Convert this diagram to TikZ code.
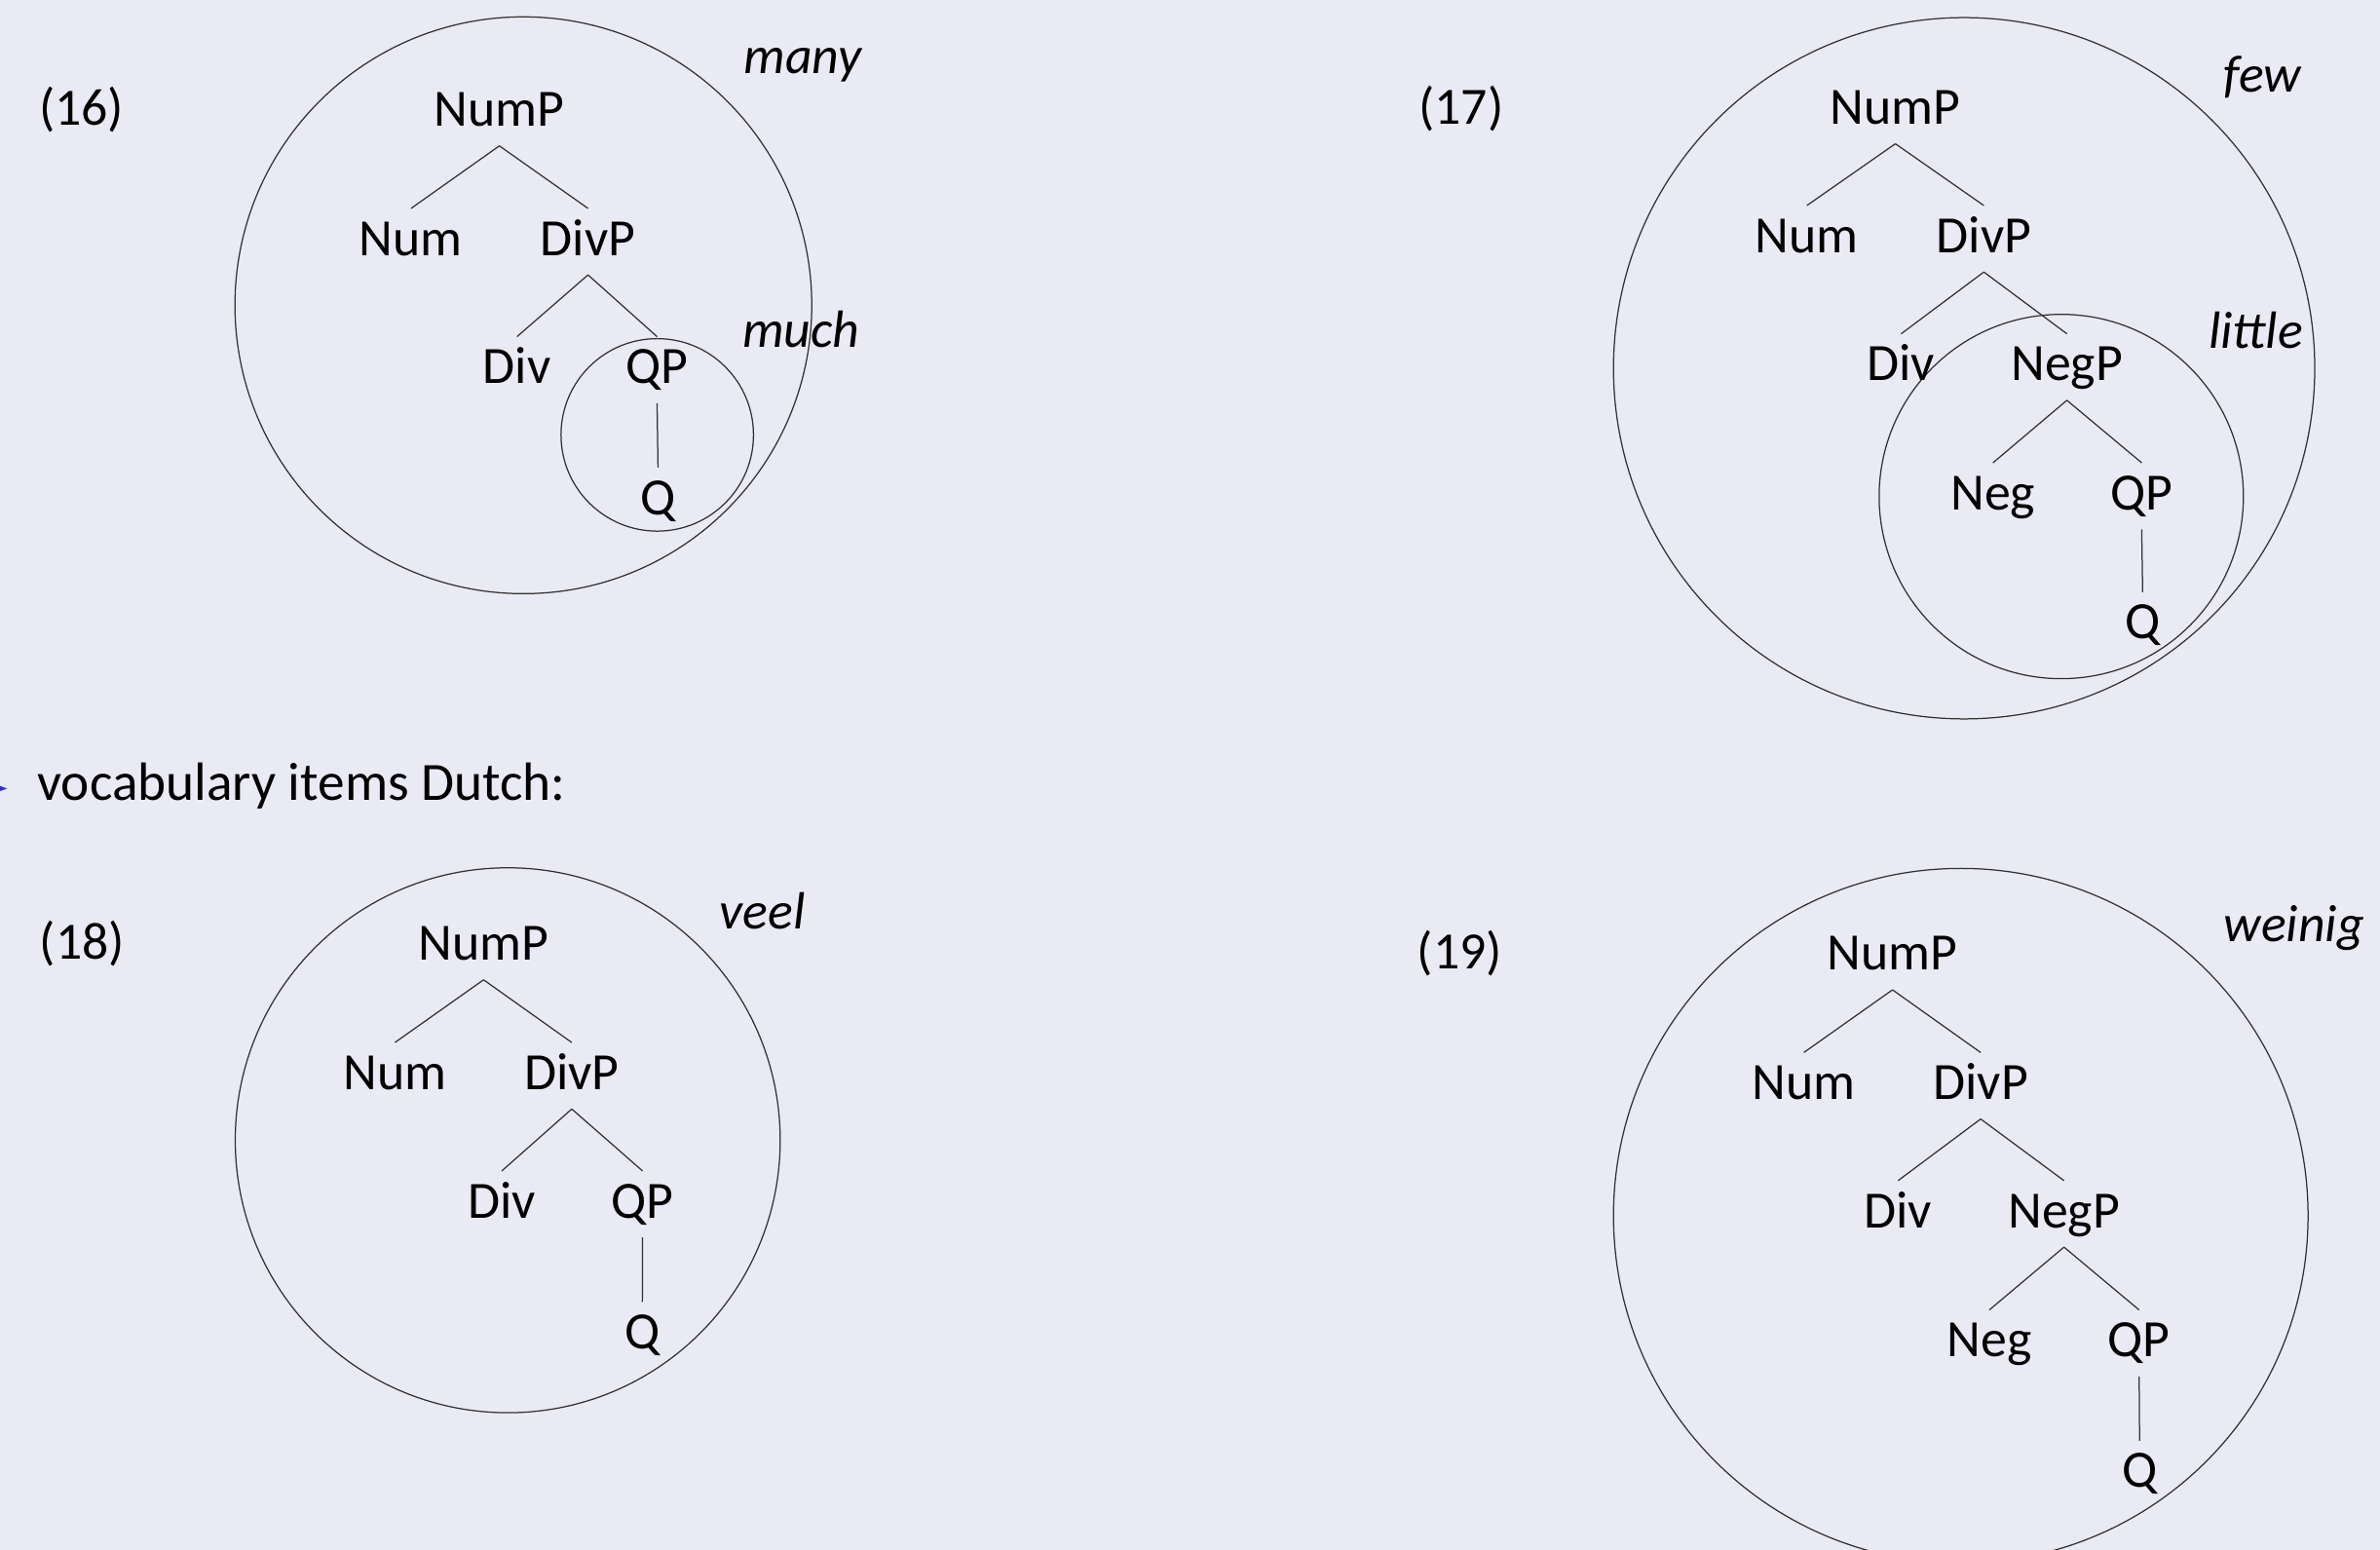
\documentclass[tikz,border=0pt]{standalone}
\usepackage{fontspec}
\setmainfont{Carlito}
\definecolor{bg}{RGB}{234,234,245}
\definecolor{bul}{RGB}{51,51,204}
\definecolor{ink}{RGB}{50,50,50}
\tikzset{
  cat/.style={font=\fontsize{34.5}{41}\selectfont, inner xsep=0pt, inner ysep=0pt,
              text height=30.7pt, text depth=12.7pt, yshift=-1.9pt},
  gloss/.style={font=\fontsize{34.5}{41}\selectfont\itshape, inner sep=0pt, anchor=base west},
  exnum/.style={font=\fontsize{34.5}{41}\selectfont, inner sep=0pt, anchor=base west},
  bodytext/.style={font=\fontsize{35.5}{42}\selectfont, inner sep=0pt, anchor=base west},
  branch/.style={draw=ink, line width=0.8pt},
  ring/.style={draw=ink, line width=0.8pt},
}
\begin{document}
\begin{tikzpicture}[x=1pt,y=-1pt]
\path[use as bounding box] (0,0) rectangle (1568,1021);
\fill[bg] (0,0) rectangle (1568,1021);
\clip (0,0) rectangle (1568,1021);

% ---------- (16) many / much ----------
\node[exnum] (e16) at (25.5,82.5) {(16)};
\draw[ring] (344.8,201.1) circle[radius=190pt];
\draw[ring] (433,286.5) circle[radius=63.4pt];
\node[gloss] (many) at (490,48.2) {many};
\node[gloss] (much) at (489,229) {much};
\node[cat] (a1) at (329,72.3) {NumP};
\node[cat] (a2) at (270.8,157.3) {Num};
\node[cat] (a3) at (387.4,157.3) {DivP};
\node[cat] (a4) at (340.6,241.8) {Div};
\node[cat] (a5) at (432.9,241.8) {QP};
\node[cat] (a6) at (433.5,328) {Q};
\draw[branch] (a1.south) -- (a2.north);
\draw[branch] (a1.south) -- (a3.north);
\draw[branch] (a3.south) -- (a4.north);
\draw[branch] (a3.south) -- (a5.north);
\draw[branch] (a5.south) -- (a6.north);

% ---------- (17) few / little ----------
\node[exnum] (e17) at (934.5,81.8) {(17)};
\draw[ring] (1294,242.6) circle[radius=231pt];
\draw[ring] (1358,327.1) circle[radius=120pt];
\node[gloss] (few) at (1465,60.6) {few};
\node[gloss] (little) at (1455,229.3) {little};
\node[cat] (b1) at (1248.7,70.9) {NumP};
\node[cat] (b2) at (1190.4,155.4) {Num};
\node[cat] (b3) at (1307,155.4) {DivP};
\node[cat] (b4) at (1252.5,239.9) {Div};
\node[cat] (b5) at (1361.7,239.9) {NegP};
\node[cat] (b6) at (1313,324.9) {Neg};
\node[cat] (b7) at (1411,324.9) {QP};
\node[cat] (b8) at (1411.6,410.1) {Q};
\draw[branch] (b1.south) -- (b2.north);
\draw[branch] (b1.south) -- (b3.north);
\draw[branch] (b3.south) -- (b4.north);
\draw[branch] (b3.south) -- (b5.north);
\draw[branch] (b5.south) -- (b6.north);
\draw[branch] (b5.south) -- (b7.north);
\draw[branch] (b7.south) -- (b8.north);

% ---------- bullet line ----------
\fill[bul] (-4,516.3) -- (4.7,519.5) -- (-4,522.7) -- cycle;
\node[bodytext] (bullet) at (24.5,527.4) {vocabulary items Dutch:};

% ---------- (18) veel ----------
\node[exnum] (e18) at (26,632) {(18)};
\draw[ring] (334.5,751.2) circle[radius=179.5pt];
\node[gloss] (veel) at (474,612) {veel};
\node[cat] (c1) at (318.6,621.7) {NumP};
\node[cat] (c2) at (260.2,706.8) {Num};
\node[cat] (c3) at (376.7,706.8) {DivP};
\node[cat] (c4) at (330.6,791.4) {Div};
\node[cat] (c5) at (423.3,791.4) {QP};
\node[cat] (c6) at (423.2,877.7) {Q};
\draw[branch] (c1.south) -- (c2.north);
\draw[branch] (c1.south) -- (c3.north);
\draw[branch] (c3.south) -- (c4.north);
\draw[branch] (c3.south) -- (c5.north);
\draw[branch] (c5.south) -- (c6.north);

% ---------- (19) weinig ----------
\node[exnum] (e19) at (933.5,638.6) {(19)};
\draw[ring] (1291.8,800.9) circle[radius=228.8pt];
\node[gloss] (weinig) at (1465,620) {weinig};
\node[cat] (d1) at (1246.8,628.3) {NumP};
\node[cat] (d2) at (1188.4,713.4) {Num};
\node[cat] (d3) at (1304.9,713.4) {DivP};
\node[cat] (d4) at (1250.5,797.8) {Div};
\node[cat] (d5) at (1359.8,797.8) {NegP};
\node[cat] (d6) at (1310.6,883) {Neg};
\node[cat] (d7) at (1409.3,883) {QP};
\node[cat] (d8) at (1409.6,969.1) {Q};
\draw[branch] (d1.south) -- (d2.north);
\draw[branch] (d1.south) -- (d3.north);
\draw[branch] (d3.south) -- (d4.north);
\draw[branch] (d3.south) -- (d5.north);
\draw[branch] (d5.south) -- (d6.north);
\draw[branch] (d5.south) -- (d7.north);
\draw[branch] (d7.south) -- (d8.north);
\end{tikzpicture}
\end{document}
